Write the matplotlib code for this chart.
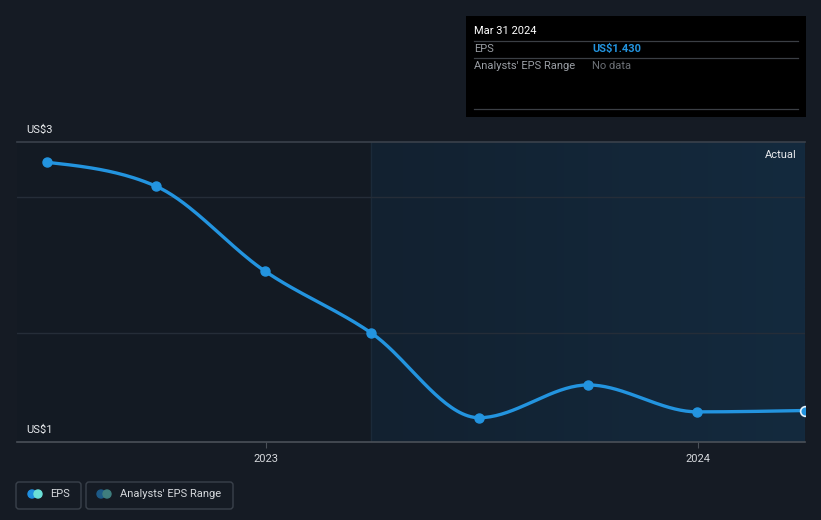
import numpy as np
import matplotlib.pyplot as plt
import matplotlib.dates as mdates
from matplotlib.patches import Rectangle, FancyBboxPatch, Circle
from matplotlib.colors import LinearSegmentedColormap

plt.rcParams['font.family'] = ['Roboto', 'DejaVu Sans']

# quarterly EPS (US$)
dates = ["2022-06-30", "2022-09-30", "2022-12-31", "2023-03-31",
         "2023-06-30", "2023-09-30", "2023-12-31", "2024-03-31"]
eps = [3.255, 3.08, 2.456, 2.0, 1.377, 1.618, 1.42, 1.43]
year_ticks = ["2023-01-01", "2024-01-01"]
year_labels = ["2023", "2024"]

BG = '#151b24'
W, H = 821, 520


def monotone_curve(x, y, n=40):
    # d3 curveMonotoneX style smoothing between the data points
    x = np.asarray(x, float)
    y = np.asarray(y, float)
    h = np.diff(x)
    d = np.diff(y) / h
    m = np.zeros_like(y)
    for i in range(1, len(y) - 1):
        s0, s1 = d[i - 1], d[i]
        p = (s0 * h[i] + s1 * h[i - 1]) / (h[i - 1] + h[i])
        m[i] = (np.sign(s0) + np.sign(s1)) * min(abs(s0), abs(s1), 0.5 * abs(p))
    m[0] = (3 * d[0] - m[1]) / 2
    m[-1] = (3 * d[-1] - m[-2]) / 2
    xs, ys = [], []
    for i in range(len(h)):
        t = np.linspace(0, 1, n)
        h00 = 2 * t**3 - 3 * t**2 + 1
        h10 = t**3 - 2 * t**2 + t
        h01 = -2 * t**3 + 3 * t**2
        h11 = t**3 - t**2
        xs.append(x[i] + t * h[i])
        ys.append(h00 * y[i] + h10 * h[i] * m[i] + h01 * y[i + 1] + h11 * h[i] * m[i + 1])
    return np.concatenate(xs), np.concatenate(ys)


def fx(px):
    return px / W


def fy(py):
    return 1 - py / H


x = mdates.datestr2num(dates)
xt = mdates.datestr2num(year_ticks)

fig = plt.figure(figsize=(8.21, 5.2), dpi=100, facecolor=BG)
ax = fig.add_axes([fx(17), fy(442), fx(805) - fx(17), (442 - 142) / H])
ax.set_facecolor('#131a23')

x0 = mdates.datestr2num("2022-06-05")
x1 = x[-1]
ylo, yhi = 1.1985, 3.404
ax.set_xlim(x0, x1)
ax.set_ylim(ylo, yhi)

# past-year shaded region with a light gradient
grad = np.linspace(0, 1, 256).reshape(1, -1)
cm = LinearSegmentedColormap.from_list('g', ['#122130', '#142a3e'])
ax.imshow(grad, cmap=cm, aspect='auto', extent=[x[3], x1, ylo, yhi],
          zorder=0.5, interpolation='bilinear')
ax.axvline(x[3], color='#1b2a39', lw=1, zorder=0.6)

for v in [2, 3]:
    ax.axhline(v, color='#252d38', lw=1, zorder=0.7)
ax.axhline(yhi, color='#3a414b', lw=1.2, zorder=0.7, clip_on=False)

cx, cy = monotone_curve(x, eps)
ax.plot(cx, cy, color='#2394df', lw=2.4, zorder=3, solid_capstyle='round')
ax.plot(x[:-1], eps[:-1], 'o', color='#2394df', ms=6.5, zorder=4)
ax.plot(x[-1], eps[-1], 'o', color='#2394df', mec='#e6f2fb', mew=1.2, ms=7, zorder=4, clip_on=True)

for s in ['top', 'left', 'right']:
    ax.spines[s].set_visible(False)
ax.spines['bottom'].set_color('#4a5058')
ax.spines['bottom'].set_linewidth(1.2)
ax.set_yticks([])
ax.set_xticks(xt)
ax.set_xticklabels(year_labels, color='#d5d8dc', fontsize=8)
ax.tick_params(axis='x', length=4, color='#4a5058', pad=5)

ax.text(0.99, 0.955, 'Actual', transform=ax.transAxes, ha='right', va='center',
        color='#e8eaed', fontsize=8)

# overlay axes in pixel coords for the labels, tooltip and legend
lax = fig.add_axes([0, 0, 1, 1], facecolor='none')
lax.set_xlim(0, W)
lax.set_ylim(H, 0)
lax.axis('off')

lax.text(26, 130, 'US$3', color='#e8eaed', fontsize=8, va='center', ha='left')
lax.text(26, 430, 'US$1', color='#e8eaed', fontsize=8, va='center', ha='left')

# tooltip box
lax.add_patch(Rectangle((466, 16), 340, 101, facecolor='#000000', edgecolor='none'))
for ly in [41, 58, 109]:
    lax.plot([474, 798], [ly, ly], color='#3b3f45', lw=0.9)
lax.text(474, 31, 'Mar 31 2024', color='#ffffff', fontsize=8, va='center')
lax.text(474, 49, 'EPS', color='#9a9ea4', fontsize=8, va='center')
lax.text(592, 49, 'US$1.430', color='#2394df', fontsize=8, fontweight='bold', va='center')
lax.text(474, 66, "Analysts' EPS Range", color='#9a9ea4', fontsize=8, va='center')
lax.text(592, 66, 'No data', color='#6c7076', fontsize=8, va='center')

# legend
for bx0, bx1 in [(16, 81), (86, 233)]:
    lax.add_patch(FancyBboxPatch((bx0, 482), bx1 - bx0, 27,
                                 boxstyle='round,pad=0,rounding_size=3',
                                 facecolor='none', edgecolor='#3a414b', lw=1))
lax.add_patch(Circle((32, 494), 4, color='#1f8fe0'))
lax.add_patch(Circle((38, 494), 4, color='#6be0d8'))
lax.add_patch(Circle((101, 494), 4, color='#1d5a87'))
lax.add_patch(Circle((107, 494), 4, color='#3f7e7e'))
lax.text(50, 494, 'EPS', color='#d5d8dc', fontsize=8, va='center')
lax.text(120, 494, "Analysts' EPS Range", color='#d5d8dc', fontsize=8, va='center')

fig.savefig('out.png', dpi=100, facecolor=BG)
